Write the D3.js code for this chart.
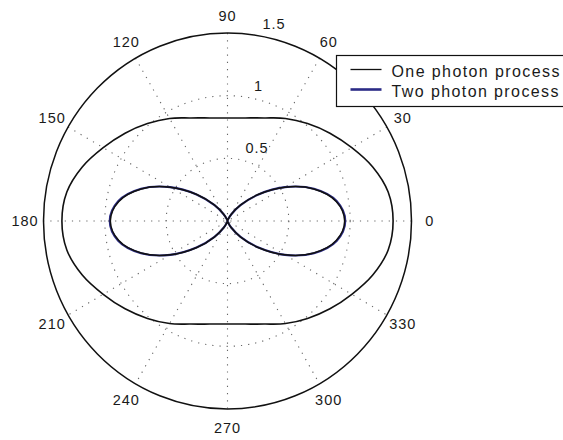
<!DOCTYPE html>
<html>
<head>
<meta charset="utf-8">
<script src="https://cdn.jsdelivr.net/npm/d3@7"></script>
<style>
    body { margin: 0; background: #fff; }
    text { font-family: "Liberation Sans", Arial, sans-serif; fill: #1a1a1a; }
</style>
</head>
<body>
<script>
// angles in degrees, counter-clockwise from 0 (east)
var angles = [0, 10, 20, 30, 40, 50, 60, 70, 80, 90, 100, 110, 120, 130, 140, 150, 160, 170,
    180, 190, 200, 210, 220, 230, 240, 250, 260, 270, 280, 290, 300, 310, 320, 330, 340, 350];

// radius for each angle
var onePhoton = [1.35, 1.33, 1.26, 1.17, 1.09, 1.015, 0.945, 0.875, 0.835, 0.822, 0.835, 0.875, 0.945, 1.015, 1.09, 1.17, 1.26, 1.33,
    1.35, 1.33, 1.26, 1.17, 1.09, 1.015, 0.945, 0.875, 0.835, 0.822, 0.835, 0.875, 0.945, 1.015, 1.09, 1.17, 1.26, 1.33];
var twoPhoton = [0.96, 0.905, 0.75, 0.54, 0.33, 0.165, 0.06, 0.013, 0.001, 0, 0.001, 0.013, 0.06, 0.165, 0.33, 0.54, 0.75, 0.905,
    0.96, 0.905, 0.75, 0.54, 0.33, 0.165, 0.06, 0.013, 0.001, 0, 0.001, 0.013, 0.06, 0.165, 0.33, 0.54, 0.75, 0.905];
// black trace drawn over the blue one
var twoPhotonBlack = [0.955, 0.9, 0.748, 0.54, 0.332, 0.167, 0.062, 0.014, 0.001, 0, 0.001, 0.014, 0.062, 0.167, 0.332, 0.54, 0.748, 0.9,
    0.955, 0.9, 0.748, 0.54, 0.332, 0.167, 0.062, 0.014, 0.001, 0, 0.001, 0.014, 0.062, 0.167, 0.332, 0.54, 0.748, 0.9];

var rTicks = [0.5, 1, 1.5];
var spokeAngles = [0, 30, 60, 90, 120, 150];
var angleLabels = [0, 30, 60, 90, 120, 150, 180, 210, 240, 270, 300, 330];
var seriesNames = ["One photon process", "Two photon process"];

var width = 563, height = 440;
var cx = 227.5, cy = 221, rmax = 1.5;

// the scan is slightly taller than wide, so x and y get their own scale
var x = d3.scaleLinear().domain([-rmax, rmax]).range([cx - 184, cx + 184]);
var y = d3.scaleLinear().domain([-rmax, rmax]).range([cy + 188, cy - 188]);

function px(r, a) { return x(r * Math.cos(a * Math.PI / 180)); }
function py(r, a) { return y(r * Math.sin(a * Math.PI / 180)); }

var svg = d3.select("body").append("svg")
    .attr("width", width)
    .attr("height", height);

// dotted grid circles
svg.selectAll("ellipse.grid")
    .data(rTicks.slice(0, -1))
    .enter()
    .append("ellipse")
    .attr("class", "grid")
    .attr("cx", x(0))
    .attr("cy", y(0))
    .attr("rx", function (d) { return x(d) - x(0); })
    .attr("ry", function (d) { return y(0) - y(d); })
    .style("fill", "none")
    .style("stroke", "#666")
    .style("stroke-width", 1.1)
    .style("stroke-dasharray", "1.2,6");

// dotted spokes
svg.selectAll("line.spoke")
    .data(spokeAngles)
    .enter()
    .append("line")
    .attr("class", "spoke")
    .attr("x1", function (d) { return px(rmax, d); })
    .attr("y1", function (d) { return py(rmax, d); })
    .attr("x2", function (d) { return px(rmax, d + 180); })
    .attr("y2", function (d) { return py(rmax, d + 180); })
    .style("stroke", "#666")
    .style("stroke-width", 1.1)
    .style("stroke-dasharray", "1.2,6");

// outer circle
svg.append("ellipse")
    .attr("cx", x(0))
    .attr("cy", y(0))
    .attr("rx", x(rmax) - x(0))
    .attr("ry", y(0) - y(rmax))
    .style("fill", "none")
    .style("stroke", "#111")
    .style("stroke-width", 1.5);

// radius labels, MATLAB style at 82 degrees
svg.selectAll("text.rlabel")
    .data(rTicks)
    .enter()
    .append("text")
    .attr("class", "rlabel")
    .attr("x", function (d) { return px(d + 0.025, 82); })
    .attr("y", function (d) { return py(d + 0.025, 82); })
    .attr("dx", 9)
    .attr("dy", -3)
    .style("font-size", "14.5px")
    .style("letter-spacing", "1px")
    .text(function (d) { return d; });

// angle labels
svg.selectAll("text.alabel")
    .data(angleLabels)
    .enter()
    .append("text")
    .attr("class", "alabel")
    .attr("x", function (d) { return px(rmax * 1.1, d); })
    .attr("y", function (d) { return py(rmax * 1.1, d) + (d == 90 ? 2 : 0); })
    .attr("text-anchor", "middle")
    .attr("dominant-baseline", "central")
    .style("font-size", "14.5px")
    .style("letter-spacing", "1px")
    .text(function (d) { return d; });

function curve(values) {
    var pts = angles.map(function (a, i) { return [values[i], a]; });
    return d3.line()
        .x(function (d) { return px(d[0], d[1]); })
        .y(function (d) { return py(d[0], d[1]); })
        .curve(d3.curveCatmullRomClosed)(pts);
}

svg.append("path")
    .attr("d", curve(twoPhoton))
    .style("fill", "none")
    .style("stroke", "#2b2b86")
    .style("stroke-width", 2.1);

svg.append("path")
    .attr("d", curve(twoPhotonBlack))
    .style("fill", "none")
    .style("stroke", "#111")
    .style("stroke-width", 1.5);

svg.append("path")
    .attr("d", curve(onePhoton))
    .style("fill", "none")
    .style("stroke", "#111")
    .style("stroke-width", 1.6);

// legend, box runs off the right edge like the original
var legend = svg.append("g").attr("transform", "translate(336.5,55.5)");
legend.append("rect")
    .attr("width", 260)
    .attr("height", 51)
    .style("fill", "#fff")
    .style("stroke", "#111")
    .style("stroke-width", 1.2);

var legendColors = ["#111", "#2b2b86"];
var legendWidths = [1.3, 2.6];
seriesNames.forEach(function (name, i) {
    legend.append("line")
        .attr("x1", 14).attr("x2", 45)
        .attr("y1", 14 + i * 20).attr("y2", 14 + i * 20)
        .style("stroke", legendColors[i])
        .style("stroke-width", legendWidths[i]);
    legend.append("text")
        .attr("x", 55)
        .attr("y", 15.5 + i * 20)
        .attr("dominant-baseline", "central")
        .style("font-size", "16px")
        .style("letter-spacing", "1.4px")
        .text(name);
});
</script>
</body>
</html>
